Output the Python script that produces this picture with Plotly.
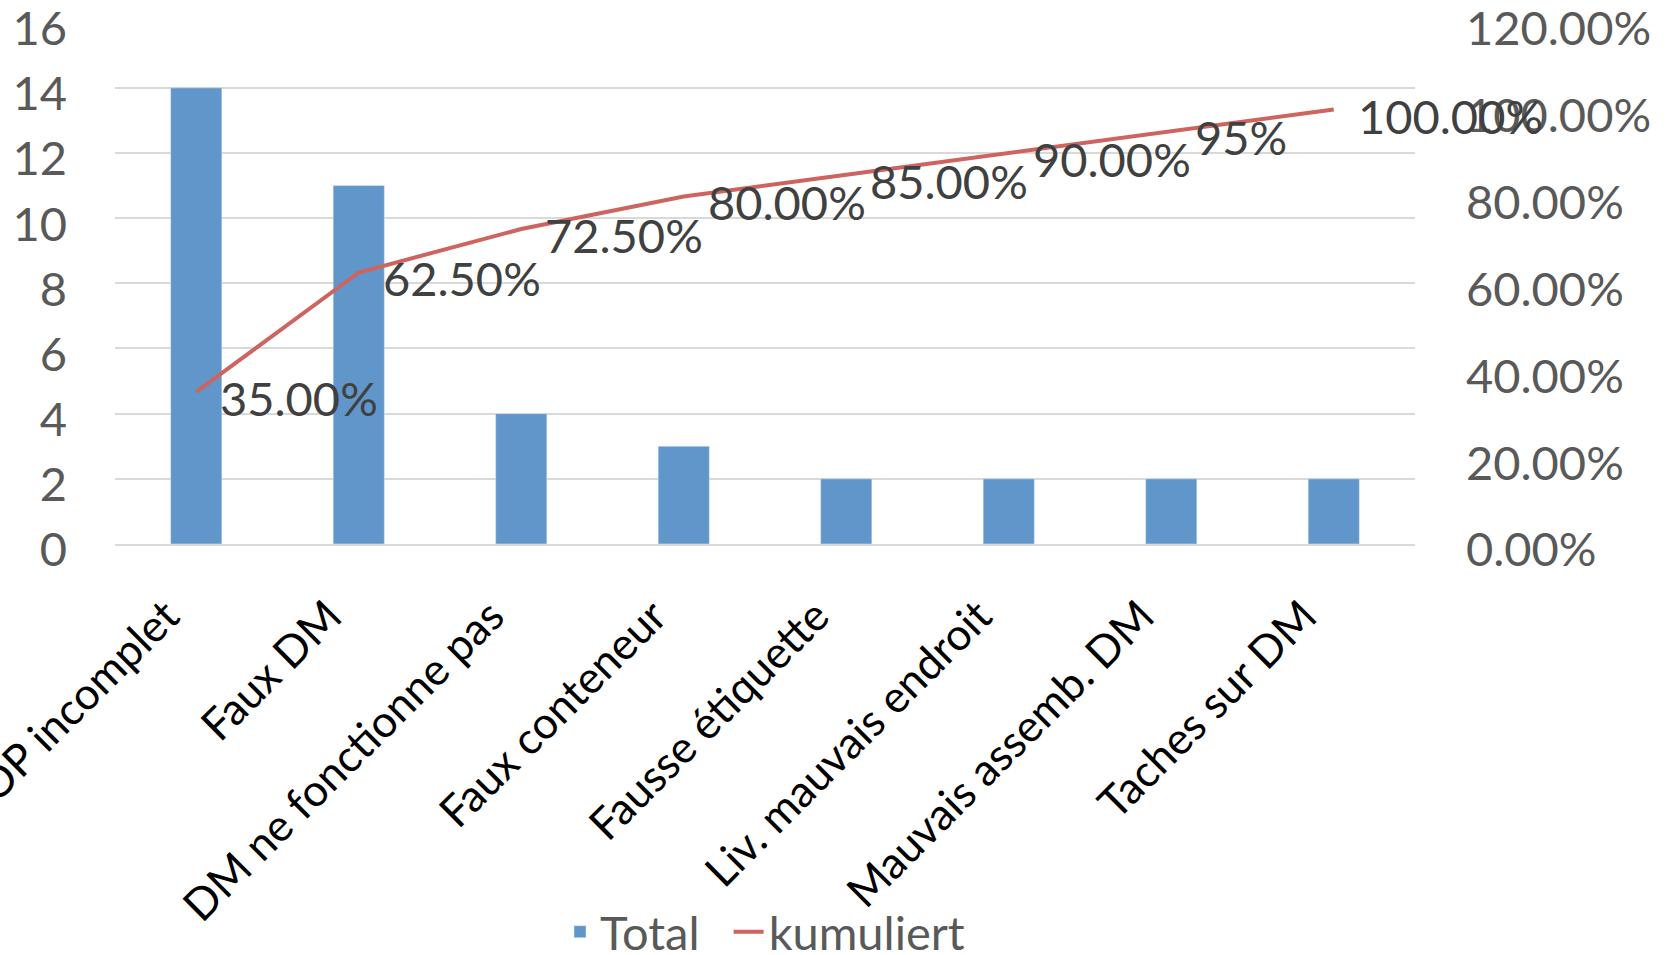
import plotly.graph_objects as go

categories = ["SOP incomplet", "Faux DM", "DM ne fonctionne pas", "Faux conteneur",
              "Fausse étiquette", "Liv. mauvais endroit", "Mauvais assemb. DM", "Taches sur DM"]
total = [14, 11, 4, 3, 2, 2, 2, 2]
kumuliert = [0.35, 0.625, 0.725, 0.80, 0.85, 0.90, 0.95, 1.00]
kum_labels = ["35.00%", "62.50%", "72.50%", "80.00%", "85.00%", "90.00%", "95%", "100.00%"]

FONT = "Lato"
SZ = 47
GRAY = "#595959"

fig = go.Figure()
fig.add_trace(go.Bar(x=categories, y=total, name="Total\u00a0\u00a0", marker_color="#6096C9",
                     width=0.315, yaxis="y"))
fig.add_trace(go.Scatter(x=categories, y=kumuliert, name="kumuliert", mode="lines",
                         line=dict(color="#CD6460", width=4), yaxis="y2"))

for c, v, t in zip(categories, kumuliert, kum_labels):
    fig.add_annotation(x=c, y=v, xref="x", yref="y2", text=t, showarrow=False,
                       xanchor="left", yanchor="middle", xshift=22, yshift=-6,
                       font=dict(family=FONT, size=SZ, color="#404040"))

fig.update_layout(
    width=1671, height=955,
    margin=dict(l=115, r=256, t=22, b=411),
    plot_bgcolor="white", paper_bgcolor="white",
    font=dict(family=FONT, size=SZ, color=GRAY),
    xaxis=dict(range=[-0.5, 7.5], autorange=False,
               tickangle=-45, tickfont=dict(family=FONT, size=44, color="black"),
               showgrid=False, showline=True, linecolor="#D9D9D9", linewidth=1.5,
               ticks="", automargin=False, ticklabelstandoff=27, ticklabelshift=-30),
    yaxis=dict(range=[0, 16.02], autorange=False, tickvals=[0, 2, 4, 6, 8, 10, 12, 14, 16],
               showgrid=True, gridcolor="#D9D9D9", gridwidth=1.5,
               zeroline=False, showline=False, ticks="", ticklabelstandoff=47,
               ticklabelshift=6, ticklabeloverflow="allow",
               tickfont=dict(family=FONT, size=SZ, color=GRAY), automargin=False),
    yaxis2=dict(range=[0, 1.2015], autorange=False, tickvals=[0, 0.2, 0.4, 0.6, 0.8, 1.0, 1.2],
                tickformat=".2%", overlaying="y", side="right",
                showgrid=False, zeroline=False, showline=False, ticks="",
                ticklabelstandoff=50, ticklabelshift=6, ticklabeloverflow="allow",
                tickfont=dict(family=FONT, size=SZ, color=GRAY), automargin=False),
    legend=dict(orientation="h", x=0.5, xanchor="center", yref="container",
                y=0.024, yanchor="middle",
                font=dict(family=FONT, size=SZ, color=GRAY), bgcolor="rgba(0,0,0,0)"),
    showlegend=True,
)

fig.write_html("out.html")
